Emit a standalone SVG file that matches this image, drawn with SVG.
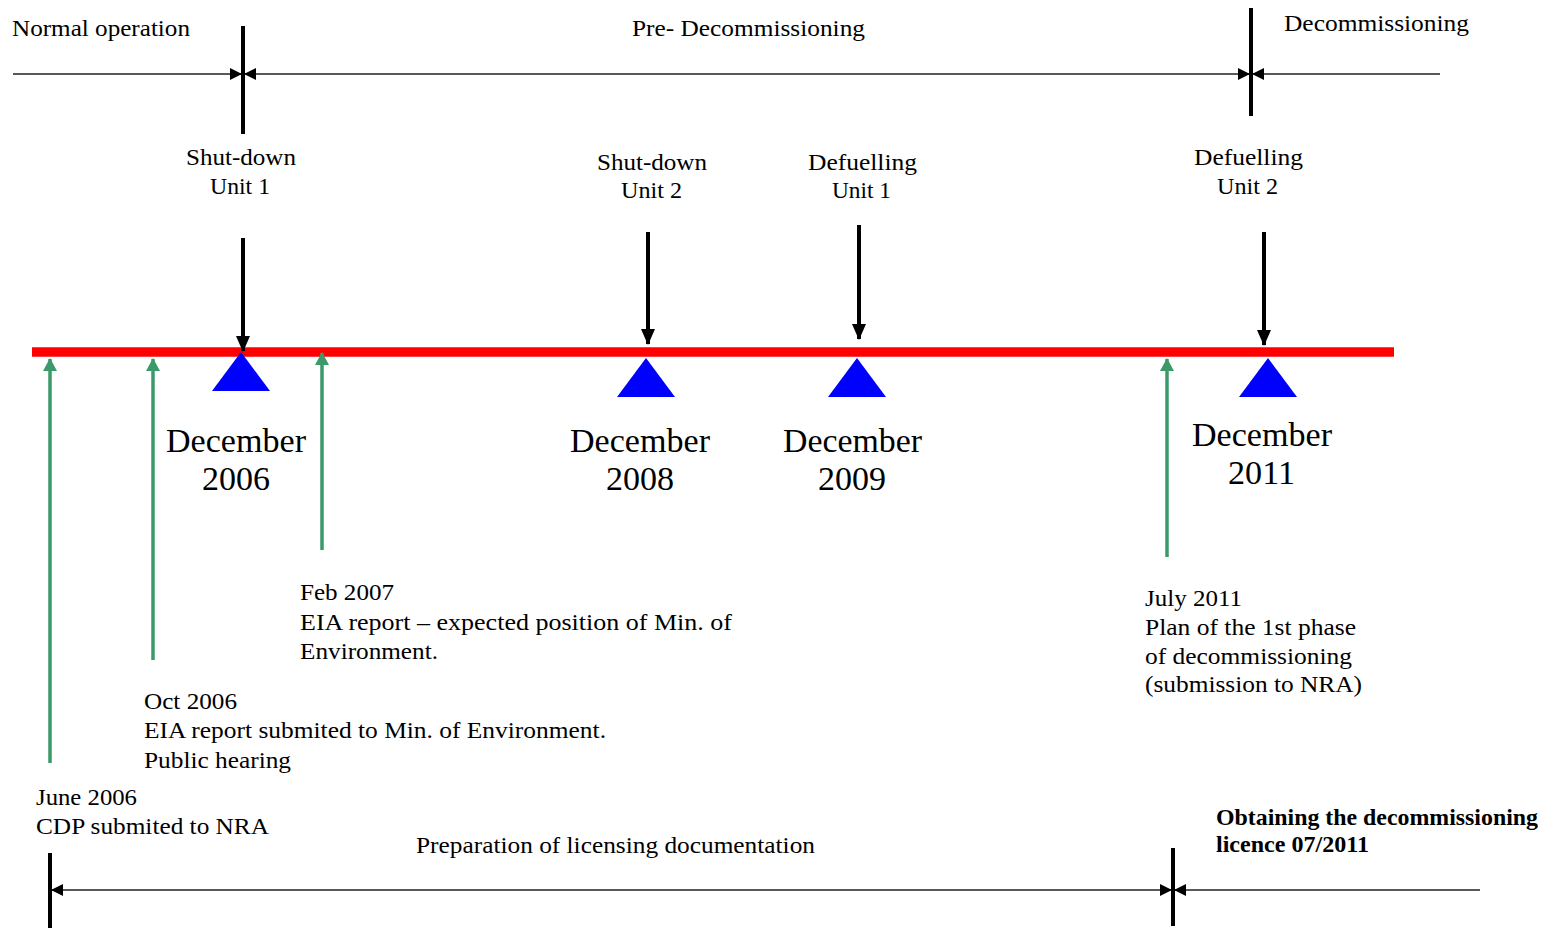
<svg xmlns="http://www.w3.org/2000/svg" width="1551" height="928" viewBox="0 0 1551 928">
<defs>
<style>
text{font-family:"Liberation Serif","Times New Roman",serif;fill:#000;}
.t{font-size:23px;}
.big{font-size:33px;}
.b{font-size:23px;font-weight:bold;}
.thin{stroke:#222;stroke-width:1.6;fill:none;}
.bar{stroke:#000;stroke-width:4;}
.blk{stroke:#000;stroke-width:4;fill:none;}
.grn{stroke:#3a9a6a;stroke-width:3.5;fill:none;}
.tri{fill:#0000ff;}
</style>
<marker id="ah" viewBox="0 0 12 12" refX="12" refY="6" markerWidth="12" markerHeight="12" markerUnits="userSpaceOnUse" orient="auto-start-reverse"><path d="M0,0 L12,6 L0,12 z" fill="#000"/></marker>
<marker id="ab" viewBox="0 0 16 14" refX="15" refY="7" markerWidth="16" markerHeight="14" markerUnits="userSpaceOnUse" orient="auto"><path d="M0,0 L16,7 L0,14 z" fill="#000"/></marker>
<marker id="ag" viewBox="0 0 13 14" refX="12" refY="7" markerWidth="13" markerHeight="14" markerUnits="userSpaceOnUse" orient="auto"><path d="M0,0 L13,7 L0,14 z" fill="#3a9a6a"/></marker>
</defs>
<rect width="1551" height="928" fill="#fff"/>

<g id="connectors">
<line class="thin" x1="13" y1="74" x2="242" y2="74" marker-end="url(#ah)"/>
<line class="thin" x1="244" y1="74" x2="1250" y2="74" marker-start="url(#ah)" marker-end="url(#ah)"/>
<line class="thin" x1="1440" y1="74" x2="1252" y2="74" marker-end="url(#ah)"/>
<line class="bar" x1="243" y1="26" x2="243" y2="134"/>
<line class="bar" x1="1251" y1="8" x2="1251" y2="116"/>
<line class="thin" x1="51" y1="890" x2="1172" y2="890" marker-start="url(#ah)" marker-end="url(#ah)"/>
<line class="thin" x1="1480" y1="890" x2="1174" y2="890" marker-end="url(#ah)"/>
<line class="bar" x1="50" y1="853" x2="50" y2="928"/>
<line class="bar" x1="1173" y1="848" x2="1173" y2="926"/>
<line x1="32" y1="352" x2="1394" y2="352" stroke="#ff0000" stroke-width="9.5"/>
<line class="blk" x1="243" y1="238" x2="243" y2="351" marker-end="url(#ab)"/>
<line class="blk" x1="648" y1="232" x2="648" y2="344" marker-end="url(#ab)"/>
<line class="blk" x1="859" y1="225" x2="859" y2="339" marker-end="url(#ab)"/>
<line class="blk" x1="1264" y1="232" x2="1264" y2="345" marker-end="url(#ab)"/>
<line class="grn" x1="50" y1="763" x2="50" y2="359" marker-end="url(#ag)"/>
<line class="grn" x1="153" y1="660" x2="153" y2="359" marker-end="url(#ag)"/>
<line class="grn" x1="322" y1="550" x2="322" y2="353" marker-end="url(#ag)"/>
<line class="grn" x1="1167" y1="557" x2="1167" y2="359" marker-end="url(#ag)"/>
</g>

<g id="phase-normal"><text class="t" x="12" y="36" textLength="178" lengthAdjust="spacingAndGlyphs">Normal operation</text></g>
<g id="phase-pre"><text class="t" x="632" y="36" textLength="233" lengthAdjust="spacingAndGlyphs">Pre- Decommissioning</text></g>
<g id="phase-decom"><text class="t" x="1284" y="31" textLength="185" lengthAdjust="spacingAndGlyphs">Decommissioning</text></g>

<g id="ev-shutdown1">
<text class="t" x="186" y="165" textLength="110" lengthAdjust="spacingAndGlyphs">Shut-down</text>
<text class="t" x="210" y="194" textLength="60" lengthAdjust="spacingAndGlyphs">Unit 1</text>
</g>
<g id="ev-shutdown2">
<text class="t" x="597" y="170" textLength="110" lengthAdjust="spacingAndGlyphs">Shut-down</text>
<text class="t" x="621" y="198" textLength="61" lengthAdjust="spacingAndGlyphs">Unit 2</text>
</g>
<g id="ev-defuel1">
<text class="t" x="808" y="170" textLength="109" lengthAdjust="spacingAndGlyphs">Defuelling</text>
<text class="t" x="832" y="198" textLength="59" lengthAdjust="spacingAndGlyphs">Unit 1</text>
</g>
<g id="ev-defuel2">
<text class="t" x="1194" y="165" textLength="109" lengthAdjust="spacingAndGlyphs">Defuelling</text>
<text class="t" x="1217" y="194" textLength="61" lengthAdjust="spacingAndGlyphs">Unit 2</text>
</g>

<g id="m-dec2006">
<polygon class="tri" points="241,352 270,391 212,391"/>
<text class="big" x="166" y="452" textLength="140" lengthAdjust="spacingAndGlyphs">December</text>
<text class="big" x="202" y="490" textLength="68" lengthAdjust="spacingAndGlyphs">2006</text>
</g>
<g id="m-dec2008">
<polygon class="tri" points="646,358 675,397 617,397"/>
<text class="big" x="570" y="452" textLength="140" lengthAdjust="spacingAndGlyphs">December</text>
<text class="big" x="606" y="490" textLength="68" lengthAdjust="spacingAndGlyphs">2008</text>
</g>
<g id="m-dec2009">
<polygon class="tri" points="857,358 886,397 828,397"/>
<text class="big" x="783" y="452" textLength="139" lengthAdjust="spacingAndGlyphs">December</text>
<text class="big" x="818" y="490" textLength="68" lengthAdjust="spacingAndGlyphs">2009</text>
</g>
<g id="m-dec2011">
<polygon class="tri" points="1268,358 1297,397 1239,397"/>
<text class="big" x="1192" y="446" textLength="140" lengthAdjust="spacingAndGlyphs">December</text>
<text class="big" x="1228" y="484" textLength="67" lengthAdjust="spacingAndGlyphs">2011</text>
</g>

<g id="doc-feb2007">
<text class="t" x="300" y="600" textLength="94" lengthAdjust="spacingAndGlyphs">Feb 2007</text>
<text class="t" x="300" y="630" textLength="432" lengthAdjust="spacingAndGlyphs">EIA report – expected position of  Min. of</text>
<text class="t" x="300" y="659" textLength="138" lengthAdjust="spacingAndGlyphs">Environment.</text>
</g>
<g id="doc-oct2006">
<text class="t" x="144" y="709" textLength="93" lengthAdjust="spacingAndGlyphs">Oct 2006</text>
<text class="t" x="144" y="738" textLength="462" lengthAdjust="spacingAndGlyphs">EIA report submited to Min. of Environment.</text>
<text class="t" x="144" y="768" textLength="147" lengthAdjust="spacingAndGlyphs">Public hearing</text>
</g>
<g id="doc-jun2006">
<text class="t" x="36" y="805" textLength="101" lengthAdjust="spacingAndGlyphs">June 2006</text>
<text class="t" x="36" y="834" textLength="233" lengthAdjust="spacingAndGlyphs">CDP submited to NRA</text>
</g>
<g id="doc-jul2011">
<text class="t" x="1145" y="606" textLength="97" lengthAdjust="spacingAndGlyphs">July 2011</text>
<text class="t" x="1145" y="635" textLength="211" lengthAdjust="spacingAndGlyphs">Plan of the 1st phase</text>
<text class="t" x="1145" y="664" textLength="207" lengthAdjust="spacingAndGlyphs">of decommissioning</text>
<text class="t" x="1145" y="692" textLength="217" lengthAdjust="spacingAndGlyphs">(submission to NRA)</text>
</g>
<g id="phase-licensing"><text class="t" x="416" y="853" textLength="399" lengthAdjust="spacingAndGlyphs">Preparation of licensing documentation</text></g>
<g id="phase-licence">
<text class="b" x="1216" y="825" textLength="322" lengthAdjust="spacingAndGlyphs">Obtaining the decommissioning</text>
<text class="b" x="1216" y="852" textLength="153" lengthAdjust="spacingAndGlyphs">licence 07/2011</text>
</g>
</svg>
